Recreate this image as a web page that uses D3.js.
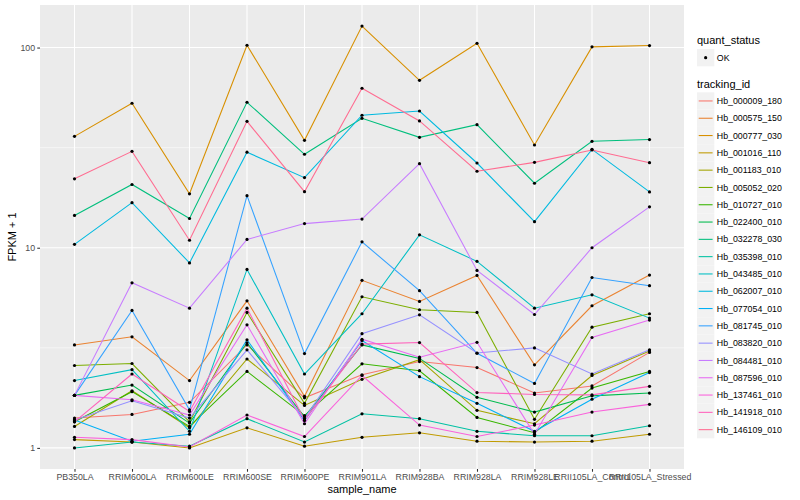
<!DOCTYPE html>
<html lang="en">
<head>
  <meta charset="utf-8">
  <title>FPKM + 1 by sample</title>
  <style>
    html,body { margin:0; padding:0; background:#fff; }
    svg  { display:block; font-family:"Liberation Sans", Arial, sans-serif; }
  </style>
  <script src="https://d3js.org/d3.v7.min.js"></script>
</head>
<body>
  <svg width="800" height="500"></svg>

  <script>
  // ---- data ----
  const samples = ["PB350LA","RRIM600LA","RRIM600LE","RRIM600SE","RRIM600PE","RRIM901LA",
                   "RRIM928BA","RRIM928LA","RRIM928LE","RRII105LA_Control","RRII105LA_Stressed"];

  const trackingIds = ["Hb_000009_180","Hb_000575_150","Hb_000777_030","Hb_001016_110","Hb_001183_010",
                       "Hb_005052_020","Hb_010727_010","Hb_022400_010","Hb_032278_030","Hb_035398_010",
                       "Hb_043485_010","Hb_062007_010","Hb_077054_010","Hb_081745_010","Hb_083820_010",
                       "Hb_084481_010","Hb_087596_010","Hb_137461_010","Hb_141918_010","Hb_146109_010"];

  // FPKM + 1, one row per tracking_id, columns follow `samples`
  const fpkm = [
    [1.41, 1.47, 1.69, 3.27, 1.78, 2.32, 2.70, 2.52, 1.88, 2.04, 3.00],
    [3.27, 3.59, 2.17, 5.43, 1.81, 6.87, 5.39, 7.27, 2.60, 5.13, 7.30],
    [36.0, 52.7, 18.6, 102.7, 34.4, 128, 68.6, 105, 32.6, 100.8, 102.3],
    [1.10, 1.07, 1.00, 1.26, 1.02, 1.13, 1.19, 1.08, 1.07, 1.08, 1.17],
    [1.28, 1.93, 1.26, 2.78, 1.63, 2.20, 2.76, 1.54, 1.32, 2.30, 3.05],
    [2.58, 2.64, 1.35, 4.75, 1.67, 5.69, 4.90, 4.75, 1.39, 4.01, 4.68],
    [1.35, 1.91, 1.28, 2.41, 1.45, 2.63, 2.43, 1.42, 1.19, 1.99, 2.41],
    [1.83, 2.06, 1.33, 3.35, 1.43, 3.27, 2.80, 1.79, 1.51, 1.82, 1.88],
    [14.5, 20.7, 14.0, 53.3, 29.3, 44.3, 35.6, 41.2, 21.0, 34.0, 34.7],
    [1.00, 1.07, 1.02, 1.40, 1.07, 1.48, 1.40, 1.21, 1.15, 1.15, 1.29],
    [2.17, 2.46, 1.21, 7.79, 2.34, 4.68, 11.6, 8.55, 4.99, 5.82, 4.45],
    [10.4, 16.8, 8.4, 30.0, 22.4, 45.9, 48.2, 26.5, 13.5, 31.0, 19.0],
    [1.38, 1.08, 1.17, 3.47, 1.37, 3.44, 2.27, 1.67, 1.21, 1.75, 2.38],
    [1.83, 4.86, 1.55, 18.2, 2.96, 10.7, 6.10, 2.97, 2.10, 7.10, 6.46],
    [1.38, 1.72, 1.41, 3.09, 1.40, 3.72, 4.62, 2.98, 3.16, 2.34, 3.09],
    [1.83, 6.68, 4.99, 11.0, 13.2, 13.9, 26.3, 7.70, 4.64, 10.0, 16.0],
    [1.83, 1.74, 1.46, 4.12, 1.32, 3.49, 2.84, 3.37, 1.17, 3.56, 4.35],
    [1.13, 1.10, 1.01, 1.46, 1.14, 2.30, 1.30, 1.14, 1.30, 1.51, 1.65],
    [1.35, 2.34, 1.52, 4.99, 1.38, 3.30, 3.36, 1.89, 1.85, 1.84, 2.03],
    [22.1, 30.3, 10.9, 42.8, 19.05, 62.6, 43.0, 24.1, 26.7, 30.8, 26.6]
  ];

  const yTicks = [1, 10, 100];
  const yMinor = [Math.sqrt(10), Math.sqrt(1000)];
  const statusLevels = ["OK"];

  // ggplot default hue palette for 20 levels
  const palette = ["#F8766D","#EA8331","#D89000","#C09B00","#A3A500","#7CAE00","#39B600","#00BB4E",
                   "#00BF7D","#00C1A3","#00BFC4","#00BAE0","#00B0F6","#35A2FF","#9590FF","#C77CFF",
                   "#E76BF3","#FA62DB","#FF62BC","#FF6C91"];

  // ---- layout ----
  const panel = { left: 40, right: 684, top: 5, bottom: 469 };
  const svg = d3.select("svg");

  const x = d3.scalePoint().domain(samples).range([panel.left, panel.right]).padding(0.6);

  const allVals = fpkm.flat();
  const lo = Math.log10(d3.min(allVals)), hi = Math.log10(d3.max(allVals));
  const pad = (hi - lo) * 0.05;
  const y = d3.scaleLog()
    .domain([Math.pow(10, lo - pad), Math.pow(10, hi + pad)])
    .range([panel.bottom, panel.top]);

  const color = d3.scaleOrdinal().domain(trackingIds).range(palette);

  // panel background + grid
  svg.append("rect")
    .attr("x", panel.left).attr("y", panel.top)
    .attr("width", panel.right - panel.left).attr("height", panel.bottom - panel.top)
    .attr("fill", "#EBEBEB");

  const grid = svg.append("g").attr("stroke", "#fff").attr("fill", "none");
  grid.selectAll("line.minor").data(yMinor).join("line")
    .attr("class", "minor")
    .attr("x1", panel.left).attr("x2", panel.right)
    .attr("y1", d => y(d)).attr("y2", d => y(d))
    .attr("stroke-width", 0.55);
  grid.selectAll("line.ymaj").data(yTicks).join("line")
    .attr("class", "ymaj")
    .attr("x1", panel.left).attr("x2", panel.right)
    .attr("y1", d => y(d)).attr("y2", d => y(d))
    .attr("stroke-width", 1.07);
  grid.selectAll("line.xmaj").data(samples).join("line")
    .attr("class", "xmaj")
    .attr("x1", d => x(d)).attr("x2", d => x(d))
    .attr("y1", panel.top).attr("y2", panel.bottom)
    .attr("stroke-width", 1.07);

  // series
  const series = trackingIds.map((id, i) => ({
    id, values: samples.map((s, j) => ({ s, v: fpkm[i][j] }))
  }));

  const line = d3.line().x(d => x(d.s)).y(d => y(d.v));

  svg.append("g").selectAll("path").data(series).join("path")
    .attr("d", d => line(d.values))
    .attr("fill", "none")
    .attr("stroke", d => color(d.id))
    .attr("stroke-width", 1.07);

  svg.append("g").selectAll("circle").data(series.flatMap(d => d.values)).join("circle")
    .attr("cx", d => x(d.s)).attr("cy", d => y(d.v))
    .attr("r", 1.6).attr("fill", "#000");

  // axes
  const axisY = svg.append("g")
    .attr("transform", `translate(${panel.left},0)`)
    .call(d3.axisLeft(y).tickValues(yTicks).tickFormat(d3.format("d")).tickSize(2.75).tickPadding(2.2));
  const axisX = svg.append("g")
    .attr("transform", `translate(0,${panel.bottom})`)
    .call(d3.axisBottom(x).tickSize(2.75).tickPadding(2.2));

  [axisY, axisX].forEach(g => {
    g.select(".domain").remove();
    g.selectAll(".tick line").attr("stroke", "#333").attr("stroke-width", 1.07);
    g.selectAll(".tick text").attr("fill", "#4D4D4D")
      .style("font-size", "8.8px").style("font-family", "Liberation Sans, Arial, sans-serif");
  });

  svg.append("text")
    .attr("x", (panel.left + panel.right) / 2).attr("y", 493)
    .attr("text-anchor", "middle").style("font-size", "11px")
    .text("sample_name");

  svg.append("text")
    .attr("transform", `translate(16,${(panel.top + panel.bottom) / 2}) rotate(-90)`)
    .attr("text-anchor", "middle").style("font-size", "11px")
    .text("FPKM + 1");

  // legends
  const lg = svg.append("g").attr("transform", "translate(697,0)");
  const keySize = 17.3;

  lg.append("text").attr("x", 0).attr("y", 44).style("font-size", "11px").text("quant_status");
  const okRows = lg.selectAll("g.ok").data(statusLevels).join("g")
    .attr("class", "ok")
    .attr("transform", (d, i) => `translate(0,${49 + i * keySize})`);
  okRows.append("rect").attr("width", keySize).attr("height", keySize).attr("fill", "#F2F2F2");
  okRows.append("circle").attr("cx", keySize / 2).attr("cy", keySize / 2).attr("r", 1.6).attr("fill", "#000");
  okRows.append("text").attr("x", keySize + 2.5).attr("y", keySize / 2 + 3.1)
    .style("font-size", "8.8px").text(d => d);

  lg.append("text").attr("x", 0).attr("y", 88).style("font-size", "11px").text("tracking_id");
  const rows = lg.selectAll("g.tid").data(trackingIds).join("g")
    .attr("class", "tid")
    .attr("transform", (d, i) => `translate(0,${92.3 + i * keySize})`);
  rows.append("rect").attr("width", keySize).attr("height", keySize).attr("fill", "#F2F2F2");
  rows.append("line")
    .attr("x1", 1.7).attr("x2", keySize - 1.7)
    .attr("y1", keySize / 2).attr("y2", keySize / 2)
    .attr("stroke", d => color(d)).attr("stroke-width", 1.07);
  rows.append("text").attr("x", keySize + 2.5).attr("y", keySize / 2 + 3.1)
    .style("font-size", "8.8px").text(d => d);
  </script>
</body>
</html>
